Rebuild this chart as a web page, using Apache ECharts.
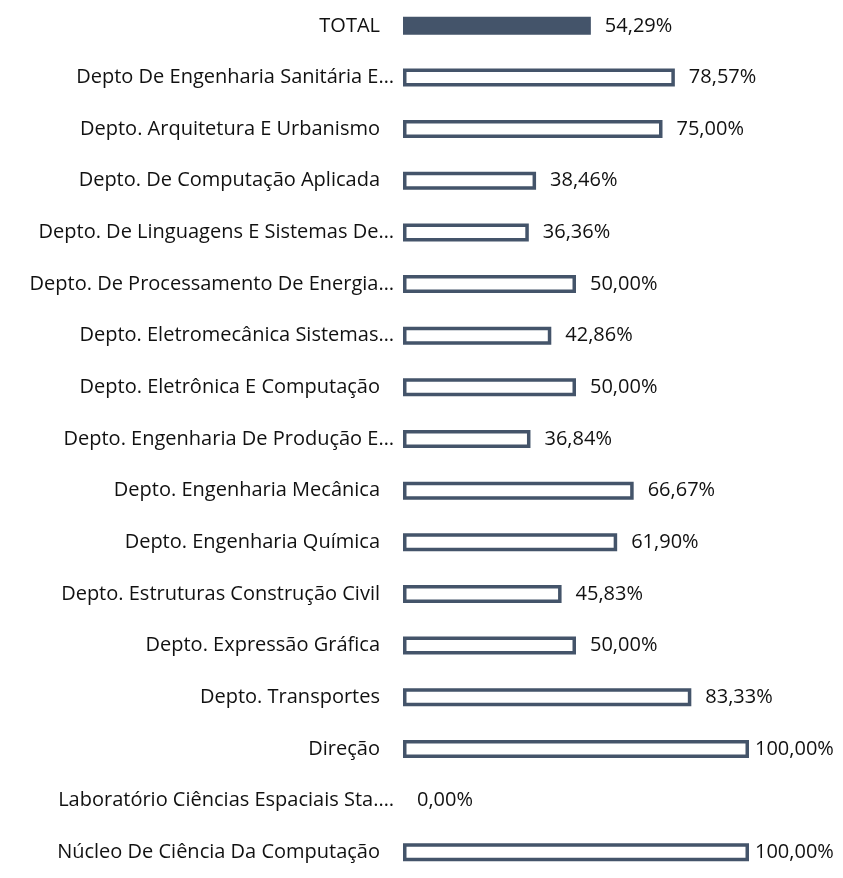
<!DOCTYPE html>
<html>
<head>
<meta charset="utf-8">
<script src="https://cdn.jsdelivr.net/npm/echarts@6/dist/echarts.min.js"></script>
<style>
  html, body { margin: 0; padding: 0; background: #fff; }
  #chart { width: 843px; height: 878px; }
</style>
</head>
<body>
<div id="chart"></div>
<script>
const categories = [
  'TOTAL',
  'Depto De Engenharia Sanitária E…',
  'Depto. Arquitetura E Urbanismo',
  'Depto. De Computação Aplicada',
  'Depto. De Linguagens E Sistemas De…',
  'Depto. De Processamento De Energia…',
  'Depto. Eletromecânica Sistemas…',
  'Depto. Eletrônica E Computação',
  'Depto. Engenharia De Produção E…',
  'Depto. Engenharia Mecânica',
  'Depto. Engenharia Química',
  'Depto. Estruturas Construção Civil',
  'Depto. Expressão Gráfica',
  'Depto. Transportes',
  'Direção',
  'Laboratório Ciências Espaciais Sta.…',
  'Núcleo De Ciência Da Computação'
];
const values = [54.29, 78.57, 75.00, 38.46, 36.36, 50.00, 42.86, 50.00, 36.84, 66.67, 61.90, 45.83, 50.00, 83.33, 100.00, 0.00, 100.00];

const dark = '#44546A';
const font = '"Open Sans", sans-serif';

const chart = echarts.init(document.getElementById('chart'));

const seriesData = values.map((v, i) => {
  const item = { value: v };
  if (i === 0) {
    item.itemStyle = { color: dark, borderWidth: 1.5 };
  }
  if (v === 0) {
    item.itemStyle = { color: 'transparent', borderColor: 'transparent', borderWidth: 0 };
  }
  if (v >= 100) {
    item.label = { distance: 6 };
  }
  return item;
});

chart.setOption({
  animation: false,
  grid: {
    left: 403,
    width: 346,
    top: -3,
    height: 894
  },
  xAxis: {
    type: 'value',
    min: 0,
    max: 100,
    show: false
  },
  yAxis: {
    type: 'category',
    inverse: true,
    data: categories,
    axisLine: { show: false },
    axisTick: { show: false },
    axisLabel: {
      margin: 9,
      color: '#111',
      fontFamily: font,
      fontSize: 20,
      formatter: v => v.endsWith('…') ? '{t|' + v + '}' : '{n|' + v + '}',
      rich: {
        t: { fontFamily: font, fontSize: 20, color: '#111' },
        n: { fontFamily: font, fontSize: 20, color: '#111', padding: [0, 14, 0, 0] }
      }
    }
  },
  series: [{
    type: 'bar',
    data: seriesData,
    barWidth: 18,
    itemStyle: {
      color: '#ffffff',
      borderColor: dark,
      borderWidth: 3.5
    },
    label: {
      show: true,
      position: 'right',
      distance: 14,
      color: '#111',
      fontFamily: font,
      fontSize: 20,
      formatter: p => p.value.toFixed(2).replace('.', ',') + '%'
    }
  }]
});
</script>
</body>
</html>
